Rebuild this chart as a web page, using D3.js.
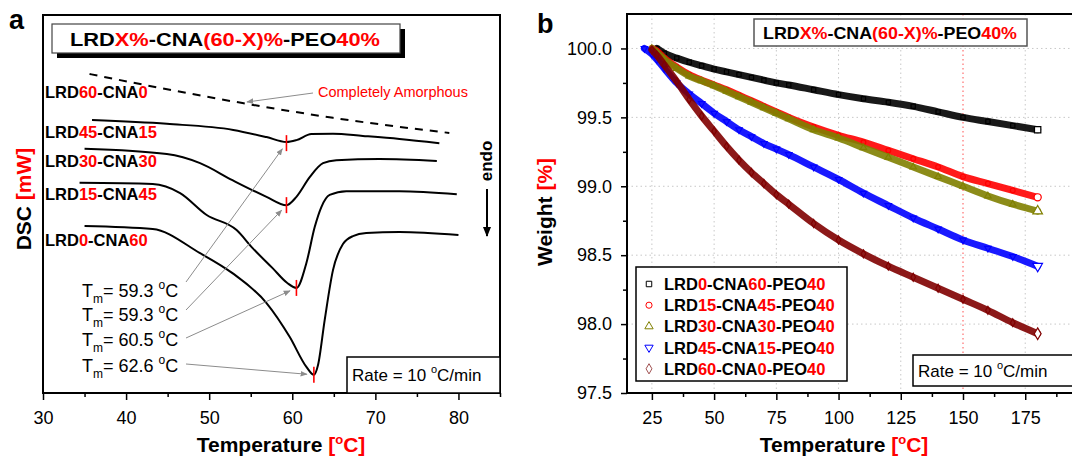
<!DOCTYPE html>
<html>
<head>
<meta charset="utf-8">
<script src="https://cdn.jsdelivr.net/npm/d3@7"></script>
<style>
body { margin: 0; background: #fff; }
text { font-family: "Liberation Sans", Arial, sans-serif; }
</style>
</head>
<body>
<div id="chart"></div>
<script>
// ---------- panel a : DSC curves (arbitrary heat-flow units) ----------
var dscT60_0 = [35.6, 44.1, 54.0, 64.9, 78.9];
var dscV60_0 = [8.44, 8.07, 7.67, 7.28, 6.88];
var dscT45_15 = [35.9, 44.9, 52.9, 56.9, 59.3, 60.5, 62.3, 64.9, 68.5, 72.9, 77.7];
var dscV45_15 = [7.22, 7.12, 6.96, 6.77, 6.64, 6.69, 6.85, 6.86, 6.80, 6.72, 6.61];
var dscT30_30 = [35.0, 44.9, 48.9, 52.8, 56.9, 59.3, 60.5, 62.1, 63.7, 65.3, 70.5, 77.4];
var dscV30_30 = [6.46, 6.32, 6.08, 5.63, 5.19, 4.97, 5.19, 5.71, 6.08, 6.16, 6.19, 6.14];
var dscT15_45 = [34.4, 43.2, 46.5, 49.7, 53.3, 55.2, 57.6, 59.4, 60.5, 61.7, 62.7, 63.5, 64.5, 66.5, 72.9, 79.8];
var dscV15_45 = [5.56, 5.53, 5.29, 4.71, 4.31, 3.84, 3.31, 2.91, 2.78, 3.44, 4.39, 4.92, 5.24, 5.34, 5.34, 5.26];
var dscT0_60 = [35.0, 43.2, 48.9, 52.8, 56.9, 59.7, 61.7, 62.6, 63.1, 63.9, 64.9, 66.1, 67.3, 68.9, 72.9, 80.0];
var dscV0_60 = [4.42, 4.34, 3.70, 3.17, 2.38, 1.48, 0.69, 0.48, 0.74, 1.93, 3.25, 3.94, 4.15, 4.23, 4.26, 4.18];
var meltTemps = [59.3, 59.3, 60.5, 62.6];

// ---------- panel b : TGA weight curves ----------
var tgaTemp = [22, 25, 27, 30, 35, 40, 45, 50, 55, 60, 65, 70, 75, 80, 90, 100, 110, 120, 130, 140, 150, 160, 170, 180];
var tga0_60 = [null, null, 100.0, 99.965, 99.93, 99.90, 99.875, 99.85, 99.83, 99.81, 99.79, 99.77, 99.75, 99.735, 99.70, 99.665, 99.635, 99.61, 99.58, 99.54, 99.50, 99.47, 99.44, 99.41];
var tga15_45 = [null, 100.0, 99.98, 99.93, 99.865, 99.81, 99.77, 99.735, 99.70, 99.66, 99.62, 99.58, 99.54, 99.50, 99.43, 99.37, 99.32, 99.26, 99.20, 99.14, 99.07, 99.02, 98.97, 98.92];
var tga30_30 = [null, 100.0, 99.97, 99.92, 99.855, 99.80, 99.765, 99.73, 99.69, 99.65, 99.61, 99.57, 99.53, 99.49, 99.41, 99.35, 99.28, 99.21, 99.14, 99.07, 99.00, 98.93, 98.87, 98.82];
var tga45_15 = [100.0, 99.96, 99.92, 99.855, 99.75, 99.67, 99.60, 99.53, 99.47, 99.41, 99.36, 99.31, 99.27, 99.23, 99.14, 99.05, 98.95, 98.86, 98.77, 98.69, 98.61, 98.55, 98.49, 98.42];
var tga60_0 = [null, 99.99, 99.95, 99.88, 99.76, 99.63, 99.51, 99.40, 99.29, 99.19, 99.10, 99.02, 98.94, 98.87, 98.73, 98.61, 98.51, 98.42, 98.34, 98.26, 98.18, 98.10, 98.01, 97.93];

var RED = "#ff0000";

var svg = d3.select("#chart").append("svg")
    .attr("width", 1072).attr("height", 457);

var defs = svg.append("defs");
function marker(id, color, size) {
    defs.append("marker").attr("id", id)
        .attr("viewBox", "0 0 10 10").attr("refX", 9).attr("refY", 5)
        .attr("markerWidth", size).attr("markerHeight", size)
        .attr("orient", "auto")
      .append("path").attr("d", "M0,1L10,5L0,9Z").attr("fill", color);
}
marker("arrGray", "#8c8c8c", 7);
marker("arrBlack", "#000", 5);

// write text made of coloured pieces
function rich(t, parts) {
    parts.forEach(function(p) {
        var s = t.append("tspan").text(p[0]).attr("fill", p[1] || "#000");
        if (p[2]) s.style("font-size", p[2]);
        if (p[3]) s.attr("dy", p[3]);
    });
    return t;
}

// =================== PANEL A ===================
var xA = d3.scaleLinear().domain([30, 85]).range([43, 500]);
var yA = d3.scaleLinear().domain([0, 10]).range([393, 15]);
var gA = svg.append("g");

gA.append("text").attr("x", 9).attr("y", 29).style("font-size", "27px")
    .style("font-weight", "bold").text("a");

// bottom axis
var axA = gA.append("g").attr("transform", "translate(0,393)")
    .call(d3.axisBottom(xA).tickValues(d3.range(30, 81, 10)).tickSize(7).tickPadding(11).tickFormat(d3.format("d")));
axA.select(".domain").remove();
axA.selectAll("text").style("font-size", "18px").attr("fill", "#000");
axA.selectAll("line").attr("stroke-width", 1.5);
var axA2 = gA.append("g").attr("transform", "translate(0,393)")
    .call(d3.axisBottom(xA).tickValues([35, 45, 55, 65, 75, 85]).tickSize(4).tickFormat(""));
axA2.select(".domain").remove();
axA2.selectAll("line").attr("stroke-width", 1.5);

gA.append("rect").attr("x", 43).attr("y", 15).attr("width", 457).attr("height", 378)
    .attr("fill", "none").attr("stroke", "#000").attr("stroke-width", 2);

// axis titles
rich(gA.append("text").attr("x", 281).attr("y", 452).attr("text-anchor", "middle")
    .style("font-size", "21px").style("font-weight", "bold"),
    [["Temperature "], ["[", RED], ["o", RED, "13px", -8], ["C]", RED, null, 8]]);
rich(gA.append("text").attr("transform", "translate(31,199) rotate(-90)").attr("text-anchor", "middle")
    .style("font-size", "21px").style("font-weight", "bold"),
    [["DSC "], ["[mW]", RED]]);

// title box with shadow
gA.append("rect").attr("x", 57).attr("y", 29).attr("width", 348).attr("height", 29).attr("fill", "#000");
gA.append("rect").attr("x", 52).attr("y", 24).attr("width", 348).attr("height", 29)
    .attr("fill", "#fff").attr("stroke", "#444").attr("stroke-width", 1.2);
rich(gA.append("text").attr("x", 70).attr("y", 45.5).attr("textLength", 310).attr("lengthAdjust", "spacingAndGlyphs")
    .style("font-size", "17.5px").style("font-weight", "bold"),
    [["LRD"], ["X%", RED], ["-CNA"], ["(60-X)%", RED], ["-PEO"], ["40%", RED]]);

// curves
var lineA = d3.line().x(function(d) { return xA(d[0]); }).y(function(d) { return yA(d[1]); })
    .curve(d3.curveMonotoneX);
var dscCurves = [
    { t: dscT60_0, v: dscV60_0, dash: "8,7" },
    { t: dscT45_15, v: dscV45_15 },
    { t: dscT30_30, v: dscV30_30 },
    { t: dscT15_45, v: dscV15_45 },
    { t: dscT0_60, v: dscV0_60 }
];
dscCurves.forEach(function(c) {
    gA.append("path").datum(d3.zip(c.t, c.v)).attr("d", lineA)
        .attr("fill", "none").attr("stroke", "#000").attr("stroke-width", 2)
        .attr("stroke-dasharray", c.dash || null);
});

// curve labels
var curveLabels = [
    [["LRD"], ["60", RED], ["-CNA"], ["0", RED]],
    [["LRD"], ["45", RED], ["-CNA"], ["15", RED]],
    [["LRD"], ["30", RED], ["-CNA"], ["30", RED]],
    [["LRD"], ["15", RED], ["-CNA"], ["45", RED]],
    [["LRD"], ["0", RED], ["-CNA"], ["60", RED]]
];
var labelBase = [98, 138, 167, 200, 246];
curveLabels.forEach(function(p, i) {
    rich(gA.append("text").attr("x", 45).attr("y", labelBase[i])
        .style("font-size", "16.5px").style("font-weight", "bold"), p);
});

// completely amorphous
gA.append("text").attr("x", 318).attr("y", 97).attr("fill", RED).style("font-size", "14.5px")
    .text("Completely Amorphous");
gA.append("line").attr("x1", 313).attr("y1", 93).attr("x2", 247).attr("y2", 102)
    .attr("stroke", "#8c8c8c").attr("stroke-width", 1).attr("marker-end", "url(#arrGray)");

// melting points: red marks, labels and arrows
var tmBase = [297, 321, 346, 372];
var tmStartDy = [-15, -11, -8, -8];
dscCurves.slice(1).forEach(function(c, i) {
    var tm = meltTemps[i];
    var vmin = d3.min(c.v);
    var px = xA(tm), py = yA(vmin);
    gA.append("line").attr("x1", px).attr("x2", px).attr("y1", py - 8).attr("y2", py + 8)
        .attr("stroke", RED).attr("stroke-width", 1.6);

    rich(gA.append("text").attr("x", 82).attr("y", tmBase[i]).style("font-size", "18px"),
        [["T"], ["m", null, "12px", 6], ["= " + tm.toFixed(1) + " ", null, null, -6],
         ["o", null, "12px", -8], ["C", null, null, 8]]);

    var sx = 186, sy = tmBase[i] + tmStartDy[i];
    var dx = px - sx, dy = py - sy, len = Math.sqrt(dx * dx + dy * dy);
    gA.append("line").attr("x1", sx).attr("y1", sy)
        .attr("x2", px - dx / len * 7).attr("y2", py - dy / len * 7)
        .attr("stroke", "#8c8c8c").attr("stroke-width", 1).attr("marker-end", "url(#arrGray)");
});

// endo arrow
gA.append("text").attr("transform", "translate(492,161) rotate(-90)").attr("text-anchor", "middle")
    .style("font-size", "17px").style("font-weight", "bold").text("endo");
gA.append("line").attr("x1", 487).attr("x2", 487).attr("y1", 189).attr("y2", 236)
    .attr("stroke", "#000").attr("stroke-width", 2).attr("marker-end", "url(#arrBlack)");

// rate box
gA.append("rect").attr("x", 347).attr("y", 357).attr("width", 153).attr("height", 36)
    .attr("fill", "#fff").attr("stroke", "#000").attr("stroke-width", 1.5);
rich(gA.append("text").attr("x", 352).attr("y", 381).style("font-size", "17px"),
    [["Rate = 10 "], ["o", null, "11px", -8], ["C/min", null, null, 8]]);

// =================== PANEL B ===================
var xB = d3.scaleLinear().domain([15, 195]).range([627, 1075]);
var yB = d3.scaleLinear().domain([97.5, 100.25]).range([393, 14]);
var gB = svg.append("g");

gB.append("text").attr("x", 537).attr("y", 33).style("font-size", "27px")
    .style("font-weight", "bold").text("b");

// grid
var xMajor = d3.range(25, 176, 25);
var yMajor = [98.0, 98.5, 99.0, 99.5, 100.0];
gB.selectAll(".gx").data(xMajor).enter().append("line")
    .attr("x1", function(d) { return xB(d); }).attr("x2", function(d) { return xB(d); })
    .attr("y1", 14).attr("y2", 393)
    .attr("stroke", function(d) { return d === 150 ? "#ff5050" : "#c8c8c8"; })
    .attr("stroke-width", 1).attr("stroke-dasharray", "1.5,3");
gB.selectAll(".gy").data(yMajor).enter().append("line")
    .attr("y1", function(d) { return yB(d); }).attr("y2", function(d) { return yB(d); })
    .attr("x1", 627).attr("x2", 1072)
    .attr("stroke", "#c8c8c8").attr("stroke-width", 1).attr("stroke-dasharray", "1.5,3");

// axes
var axBx = gB.append("g").attr("transform", "translate(0,393)")
    .call(d3.axisBottom(xB).tickValues(xMajor).tickSize(7).tickPadding(11).tickFormat(d3.format("d")));
axBx.select(".domain").remove();
axBx.selectAll("text").style("font-size", "18px").attr("fill", "#000");
axBx.selectAll("line").attr("stroke-width", 1.5);
var axBx2 = gB.append("g").attr("transform", "translate(0,393)")
    .call(d3.axisBottom(xB).tickValues(d3.range(37.5, 190, 25)).tickSize(4).tickFormat(""));
axBx2.select(".domain").remove();
axBx2.selectAll("line").attr("stroke-width", 1.5);

var axBy = gB.append("g").attr("transform", "translate(627,0)")
    .call(d3.axisLeft(yB).tickValues(d3.range(97.5, 100.01, 0.5)).tickSize(6).tickPadding(9).tickFormat(d3.format(".1f")));
axBy.select(".domain").remove();
axBy.selectAll("text").style("font-size", "18px").attr("fill", "#000");
axBy.selectAll("line").attr("stroke-width", 1.5);
var axBy2 = gB.append("g").attr("transform", "translate(627,0)")
    .call(d3.axisLeft(yB).tickValues(d3.range(97.75, 100.2, 0.5)).tickSize(4).tickFormat(""));
axBy2.select(".domain").remove();
axBy2.selectAll("line").attr("stroke-width", 1.5);

gB.append("rect").attr("x", 627).attr("y", 14).attr("width", 460).attr("height", 379)
    .attr("fill", "none").attr("stroke", "#000").attr("stroke-width", 2);

rich(gB.append("text").attr("x", 844).attr("y", 452).attr("text-anchor", "middle")
    .style("font-size", "21px").style("font-weight", "bold"),
    [["Temperature "], ["[", RED], ["o", RED, "13px", -8], ["C]", RED, null, 8]]);
rich(gB.append("text").attr("transform", "translate(552,212) rotate(-90)").attr("text-anchor", "middle")
    .style("font-size", "21px").style("font-weight", "bold"),
    [["Weight "], ["[%]", RED]]);

// series
var series = [
    { name: [["LRD"], ["0", RED], ["-CNA"], ["60", RED], ["-PEO"], ["40", RED]], w: tga0_60, color: "#000000", sym: d3.symbolSquare, rot: 0, leg: "#000000" },
    { name: [["LRD"], ["15", RED], ["-CNA"], ["45", RED], ["-PEO"], ["40", RED]], w: tga15_45, color: "#ff0000", sym: d3.symbolCircle, rot: 0, leg: "#ff0000" },
    { name: [["LRD"], ["30", RED], ["-CNA"], ["30", RED], ["-PEO"], ["40", RED]], w: tga30_30, color: "#808000", sym: d3.symbolTriangle, rot: 0, leg: "#808000" },
    { name: [["LRD"], ["45", RED], ["-CNA"], ["15", RED], ["-PEO"], ["40", RED]], w: tga45_15, color: "#0000ff", sym: d3.symbolTriangle, rot: 180, leg: "#0000ff" },
    { name: [["LRD"], ["60", RED], ["-CNA"], ["0", RED], ["-PEO"], ["40", RED]], w: tga60_0, color: "#800000", sym: d3.symbolDiamond, rot: 0, leg: "#a05050" }
];

var lineB = d3.line().defined(function(d) { return d[1] != null; })
    .x(function(d) { return xB(d[0]); }).y(function(d) { return yB(d[1]); })
    .curve(d3.curveMonotoneX);

series.forEach(function(s) {
    var pts = d3.zip(tgaTemp, s.w).filter(function(d) { return d[1] != null; });
    gB.append("path").datum(pts).attr("d", lineB)
        .attr("fill", "none").attr("stroke", s.color).attr("stroke-width", 7)
        .attr("stroke-linecap", "round").attr("opacity", 0.9);
    gB.selectAll(null).data(pts).enter().append("path")
        .attr("d", d3.symbol().type(s.sym).size(function(d, i) { return i === pts.length - 1 ? 40 : 18; }))
        .attr("transform", function(d) { return "translate(" + xB(d[0]) + "," + yB(d[1]) + ") rotate(" + s.rot + ")"; })
        .attr("fill", function(d, i) { return i === pts.length - 1 ? "#fff" : "none"; })
        .attr("stroke", s.color).attr("stroke-width", 1.2);
});

// title box
gB.append("rect").attr("x", 754).attr("y", 19).attr("width", 273).attr("height", 27)
    .attr("fill", "#fff").attr("stroke", "#555").attr("stroke-width", 1.5);
rich(gB.append("text").attr("x", 763).attr("y", 39).attr("textLength", 254).attr("lengthAdjust", "spacingAndGlyphs")
    .style("font-size", "17px").style("font-weight", "bold"),
    [["LRD"], ["X%", RED], ["-CNA"], ["(60-X)%", RED], ["-PEO"], ["40%", RED]]);

// legend
gB.append("rect").attr("x", 636).attr("y", 267).attr("width", 211).attr("height", 114)
    .attr("fill", "#fff").attr("stroke", "#000").attr("stroke-width", 1.5);
series.forEach(function(s, i) {
    var cy = 284 + i * 21.2;
    gB.append("path").attr("d", d3.symbol().type(s.sym).size(30))
        .attr("transform", "translate(649," + cy + ") rotate(" + s.rot + ")")
        .attr("fill", "none").attr("stroke", s.leg).attr("stroke-width", 1);
    rich(gB.append("text").attr("x", 664).attr("y", cy + 6)
        .style("font-size", "16.5px").style("font-weight", "bold"), s.name);
});

// rate box
gB.append("rect").attr("x", 913).attr("y", 355).attr("width", 200).attr("height", 31)
    .attr("fill", "#fff").attr("stroke", "#000").attr("stroke-width", 1.5);
rich(gB.append("text").attr("x", 918).attr("y", 377).style("font-size", "17px"),
    [["Rate = 10 "], ["o", null, "11px", -8], ["C/min", null, null, 8]]);
</script>
</body>
</html>
